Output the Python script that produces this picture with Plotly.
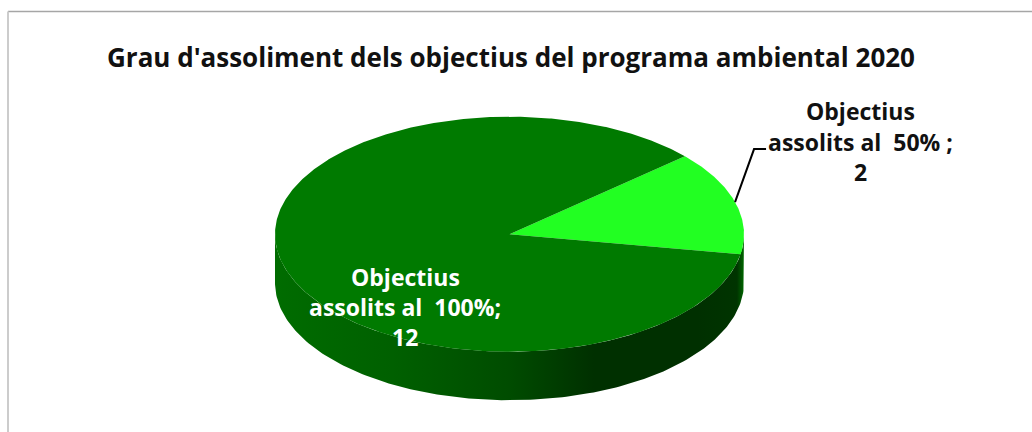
import numpy as np
import plotly.graph_objects as go

# Data
categories = ["Objectius assolits al  50%", "Objectius assolits al  100%"]
values = [2, 12]
title_text = "Grau d'assoliment dels objectius del programa ambiental 2020"
label_lines = [
    ["Objectius", "assolits al\u00a0\u00a050%\u00a0;", "2"],
    ["Objectius", "assolits al\u00a0\u00a0100%;", "12"],
]

# Style / geometry
W, H = 1032, 432
CX, CY, RX, RY, DEPTH = 509.5, 234.2, 234.5, 117.5, 48.5
START_DEG = 41.6
TOP_COLORS = ["#22ff22", "#007a00"]
WALL_SCALE = [[0, "#006c00"], [0.25, "#006000"], [0.5, "#004c00"], [0.68, "#003000"],
              [0.9, "#003000"], [0.985, "#003400"], [1, "#006800"]]
FONT = "Open Sans"


def ell(deg, dz=0.0):
    t = np.radians(deg)
    return CX + RX * np.cos(t), CY - RY * np.sin(t) + dz


fig = go.Figure()

# side wall (front half of the cylinder)
arc = np.linspace(180, 360, 181)
x0, y0 = ell(arc)
x1, y1 = ell(arc[::-1], DEPTH)
fig.add_trace(go.Scatter(
    x=np.r_[x0, x1], y=np.r_[y0, y1], mode="lines", line=dict(width=0), fill="toself",
    fillgradient=dict(type="horizontal", colorscale=WALL_SCALE, start=CX - RX, stop=CX + RX),
    hoverinfo="skip", showlegend=False))

# top face slices, clockwise from the start angle
total = sum(values)
a = START_DEG
mids = []
for val, col, name in zip(values, TOP_COLORS, categories):
    span = val / total * 360
    t = np.linspace(a, a - span, max(int(span), 2) * 2)
    x, y = ell(t)
    fig.add_trace(go.Scatter(
        x=np.r_[CX, x, CX], y=np.r_[CY, y, CY], mode="lines", line=dict(width=0),
        fill="toself", fillcolor=col, name=name, hoverinfo="name", showlegend=False))
    mids.append(a - span / 2)
    a -= span

# leader line of the small slice
lx, ly = ell(mids[0])
fig.add_trace(go.Scatter(
    x=[lx, lx + 19, lx + 31], y=[ly, ly - 53, ly - 53], mode="lines",
    line=dict(color="#000000", width=2), hoverinfo="skip", showlegend=False))

# data labels
label_pos = [(860, [111, 142, 172], "#111111"), (405, [277, 307, 337], "#ffffff")]
ann = []
for lines, (px, pys, col) in zip(label_lines, label_pos):
    for s, py in zip(lines, pys):
        ann.append(dict(x=px, y=py, xref="x", yref="y", text="<b>%s</b>" % s, showarrow=False,
                        xanchor="center", yanchor="middle",
                        font=dict(family=FONT, size=23, color=col)))

fig.update_layout(
    width=W, height=H, margin=dict(l=0, r=0, t=0, b=0),
    paper_bgcolor="#ffffff", plot_bgcolor="#ffffff", showlegend=False,
    title=dict(text="<b>%s</b>" % title_text, x=511 / W, xanchor="center",
               y=1 - 58 / H, yanchor="middle", font=dict(family=FONT, size=26, color="#111111")),
    xaxis=dict(range=[0, W], visible=False, fixedrange=True),
    yaxis=dict(range=[H, 0], visible=False, fixedrange=True),
    annotations=ann,
    shapes=[
        dict(type="line", xref="paper", yref="paper", x0=8 / W, x1=1, y0=1 - 11.5 / H, y1=1 - 11.5 / H,
             line=dict(color="#a6a6a6", width=1.5)),
        dict(type="line", xref="paper", yref="paper", x0=8 / W, x1=8 / W, y0=0, y1=1 - 11.5 / H,
             line=dict(color="#cccccc", width=2)),
    ],
)

fig.write_html("out.html", config={"displayModeBar": False},
               post_script="document.body.style.margin='0';document.body.style.overflow='hidden';")
